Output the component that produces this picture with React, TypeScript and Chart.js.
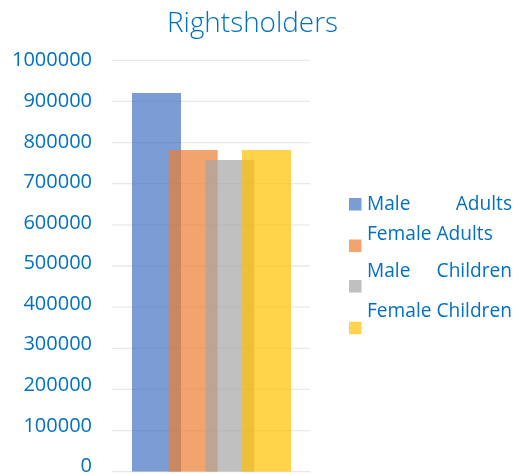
import React, { useEffect, useRef } from 'react';
import { Chart, registerables } from 'chart.js';

Chart.register(...registerables);

const chartTitle = 'Rightsholders';
const seriesLabels = ['Male Adults', 'Female Adults', 'Male Children', 'Female Children'];
const seriesValues = [920500, 782000, 757500, 782000];
const seriesSlots = [0, 1, 2, 3];
const yTickValues = [0, 100000, 200000, 300000, 400000, 500000, 600000, 700000, 800000, 900000, 1000000];

const seriesColors = [
  'rgba(68,114,196,0.7)',
  'rgba(237,125,49,0.7)',
  'rgba(165,165,165,0.7)',
  'rgba(255,192,0,0.7)',
];
const textBlue = '#0070C0';
const gridColor = '#e8e8e8';
const fontFamily = '"Open Sans", "DejaVu Sans", sans-serif';

// legend layout (canvas coordinates)
const legendLayout = [
  { baseline: 210, boxTop: 198, justify: true },
  { baseline: 240, boxTop: 239.5, justify: false },
  { baseline: 276.7, boxTop: 280, justify: true },
  { baseline: 316.7, boxTop: 321.7, justify: false },
];

const gridPlugin = {
  id: 'valueGrid',
  beforeDatasetsDraw(chart: any) {
    const ctx = chart.ctx as CanvasRenderingContext2D;
    const y = chart.scales.y;
    const { left, right } = chart.chartArea;
    ctx.save();
    ctx.strokeStyle = gridColor;
    ctx.lineWidth = 1.3;
    yTickValues.forEach((v) => {
      const py = y.getPixelForValue(v);
      ctx.beginPath();
      ctx.moveTo(left, py);
      ctx.lineTo(right, py);
      ctx.stroke();
    });
    ctx.restore();
  },
};

const overlayPlugin = {
  id: 'overlayText',
  afterDraw(chart: any) {
    const ctx = chart.ctx as CanvasRenderingContext2D;
    ctx.save();
    // title
    ctx.font = `300 20px ${fontFamily}`;
    const tw = ctx.measureText(chartTitle).width;
    const tSize = (20 * 171) / tw;
    ctx.font = `300 ${tSize}px ${fontFamily}`;
    ctx.fillStyle = textBlue;
    ctx.textAlign = 'center';
    ctx.textBaseline = 'alphabetic';
    ctx.fillText(chartTitle, 252.5, 32.3);

    // legend
    ctx.font = `400 20px ${fontFamily}`;
    const lw = ctx.measureText('Female Children').width;
    const lSize = (20 * 145) / lw;
    ctx.font = `400 ${lSize}px ${fontFamily}`;
    const boxX = 349;
    const boxSize = 12.5;
    const textLeft = 367;
    const textRight = 512;
    chart.data.datasets.forEach((ds: any, i: number) => {
      const lay = legendLayout[i];
      ctx.fillStyle = ds.backgroundColor;
      ctx.fillRect(boxX, lay.boxTop, boxSize, boxSize);
      ctx.fillStyle = textBlue;
      const label: string = ds.label;
      if (lay.justify) {
        const words = label.split(' ');
        ctx.textAlign = 'left';
        ctx.fillText(words[0], textLeft, lay.baseline);
        ctx.textAlign = 'right';
        ctx.fillText(words.slice(1).join(' '), textRight, lay.baseline);
      } else {
        ctx.textAlign = 'left';
        ctx.fillText(label, textLeft, lay.baseline);
      }
    });
    ctx.restore();
  },
};

export default function App() {
  const ref = useRef<HTMLCanvasElement | null>(null);

  useEffect(() => {
    document.body.style.margin = '0';
    if (!ref.current) return;
    const chart = new Chart(ref.current, {
      type: 'bar',
      data: {
        datasets: seriesLabels.map((label, i) => ({
          label,
          data: [{ x: seriesSlots[i], y: seriesValues[i] }],
          backgroundColor: seriesColors[i],
          borderWidth: 0,
          grouped: false,
          order: seriesLabels.length - 1 - i,
          categoryPercentage: 1,
          barPercentage: 1.336,
          yAxisID: 'y',
        })),
      },
      options: {
        responsive: false,
        animation: false,
        events: [],
        layout: { padding: { top: 60.3, left: 12, right: 205, bottom: 3.3 } },
        plugins: {
          legend: { display: false },
          title: { display: false },
          tooltip: { enabled: false },
        },
        scales: {
          x: {
            type: 'linear',
            display: false,
            offset: false,
            min: -1.2136,
            max: 4.186,
            afterBuildTicks: (s: any) => {
              s.ticks = seriesSlots.map((v) => ({ value: v }));
            },
          },
          y: {
            type: 'linear',
            display: false,
            min: 0,
            max: 1000000,
          },
          yl: {
            type: 'linear',
            position: 'left',
            min: -13100,
            max: 1001200,
            grid: { display: false, drawTicks: false },
            border: { display: false },
            ticks: {
              color: textBlue,
              padding: 20,
              font: { family: fontFamily, size: 20 },
              callback: (v: any) => String(v),
            },
            afterBuildTicks: (s: any) => {
              s.ticks = yTickValues.map((v) => ({ value: v }));
            },
            afterFit: (s: any) => {
              s.width = 100;
              s.paddingTop = 0;
              s.paddingBottom = 0;
            },
          },
        },
      } as any,
      plugins: [gridPlugin, overlayPlugin],
    });
    return () => chart.destroy();
  }, []);

  return (
    <div style={{ width: 515, height: 475 }}>
      <canvas ref={ref} width={515} height={475} style={{ display: 'block' }} />
    </div>
  );
}
